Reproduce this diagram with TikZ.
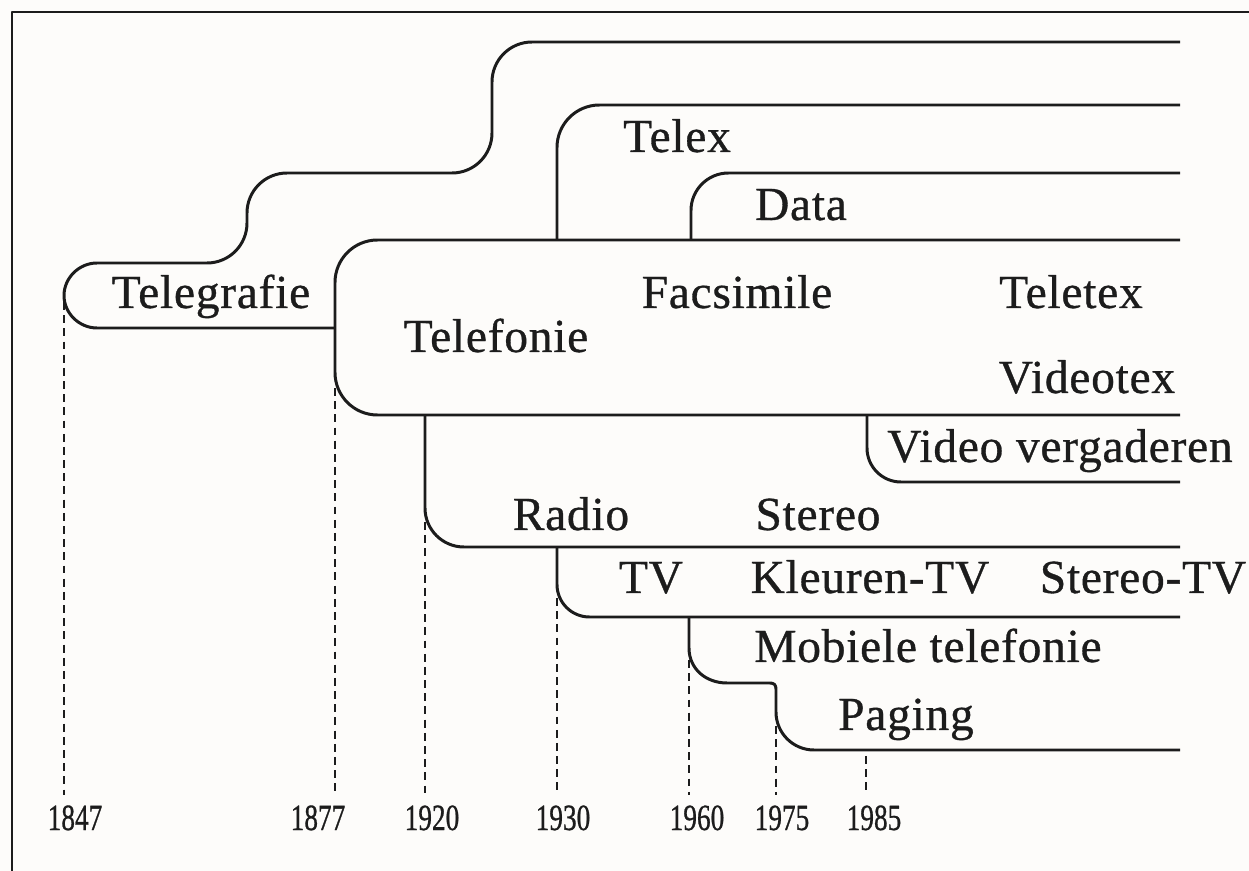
\documentclass[tikz,border=0pt]{standalone}
\usepackage{fontspec}
\setmainfont{Liberation Serif}
\newfontfamily\labelfont{Liberation Serif}[FakeBold=0.7,LetterSpace=1.6]
\newfontfamily\yearfont{Liberation Serif}[FakeBold=0.9]
\definecolor{ink}{RGB}{28,28,28}
\definecolor{paper}{RGB}{253,252,250}
\begin{document}
\begin{tikzpicture}[x=0.02cm,y=-0.02cm,line join=round,
  branch/.style={draw=ink,line width=1.7pt},
  frame/.style={draw=ink,line width=1.3pt},
  guide/.style={draw=ink,line width=0.7pt,dash pattern=on 4.5pt off 3pt},
  lbl/.style={anchor=base,inner sep=0pt,text=ink,font=\labelfont\fontsize{27}{32}\selectfont},
  yr/.style={anchor=base,inner sep=0pt,text=ink,font=\yearfont\fontsize{21}{24}\selectfont}]
\fill[paper] (0,0) rectangle (1249,871);
\useasboundingbox (0,0) rectangle (1249,871);

% outer frame (top and left edges)
\draw[frame] (1249,12) -- (12,12) -- (12,871);

% Telegrafie strand: rounded left cap, upper edge climbs twice
\draw[branch] (335,328) -- (97,328)
  .. controls (79,328) and (64,313) .. (64,295.5)
  .. controls (64,278) and (79,263) .. (97,263)
  [rounded corners=0.8cm] -- (247,263) -- (247,173) -- (492,173) -- (492,42) -- (1180,42);

% Telefonie block
\draw[branch,rounded corners=0.85cm] (1180,240) -- (335,240) -- (335,415) -- (1180,415);
% Telex
\draw[branch,rounded corners=0.85cm] (557,240) -- (557,105) -- (1180,105);
% Data
\draw[branch,rounded corners=0.75cm] (691,240) -- (691,173) -- (1180,173);
% Video vergaderen
\draw[branch,rounded corners=0.68cm] (867,415) -- (867,482) -- (1180,482);
% Radio
\draw[branch,rounded corners=0.78cm] (425,415) -- (425,547) -- (1180,547);
% TV
\draw[branch,rounded corners=0.65cm] (557,547) -- (557,617) -- (1180,617);
% Mobiele telefonie / Paging step
\draw[branch] (689,617) -- (689,648)
  .. controls (689,669) and (706,683) .. (727,683) -- (770,683)
  .. controls (774,683) and (776,685) .. (776,689) -- (776,712)
  .. controls (776,733) and (793,750) .. (814,750) -- (1180,750);

% labels
\node[lbl] (tgraf)  at (211,308) {Telegrafie};
\node[lbl] (telex)  at (677,152) {Telex};
\node[lbl] (data)   at (801,220) {Data};
\node[lbl] (fax)    at (737,308) {Facsimile};
\node[lbl] (ttex)   at (1071,308) {Teletex};
\node[lbl] (tfon)   at (496,352) {Telefonie};
\node[lbl] (vtex)   at (1087,393) {Videotex};
\node[lbl] (vconf)  at (1060,462) {Video vergaderen};
\node[lbl] (radio)  at (571,530) {Radio};
\node[lbl] (stereo) at (818,530) {Stereo};
\node[lbl] (tv)     at (651,593) {TV};
\node[lbl] (ctv)    at (870,593) {Kleuren-TV};
\node[lbl] (stv)    at (1143,593) {Stereo-TV};
\node[lbl] (mob)    at (928,662) {Mobiele telefonie};
\node[lbl] (pag)    at (906,730) {Paging};

% years
\node[yr] (y1847) at (75,830)  {\scalebox{0.74}[1]{1847}};
\node[yr] (y1877) at (318,830) {\scalebox{0.74}[1]{1877}};
\node[yr] (y1920) at (432,830) {\scalebox{0.74}[1]{1920}};
\node[yr] (y1930) at (563,830) {\scalebox{0.74}[1]{1930}};
\node[yr] (y1960) at (697,830) {\scalebox{0.74}[1]{1960}};
\node[yr] (y1975) at (782,830) {\scalebox{0.74}[1]{1975}};
\node[yr] (y1985) at (874,830) {\scalebox{0.74}[1]{1985}};

% dashed year guides
\foreach \yr/\gx/\gy in {1847/64/302,1877/335/388,1920/425/522,1930/557/598,1960/689/660,1975/776/726,1985/866/756}{
  \coordinate (s\yr) at (\gx,\gy);
  \coordinate (e\yr) at (\gx,795);
  \draw[guide] (s\yr) -- (e\yr);
}
\end{tikzpicture}
\end{document}
